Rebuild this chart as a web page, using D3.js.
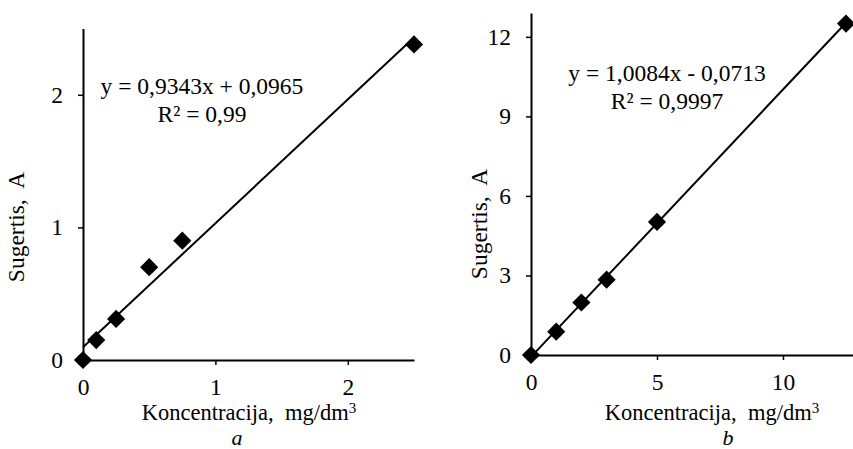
<!DOCTYPE html>
<meta charset="utf-8">
<script src="https://d3js.org/d3.v7.min.js"></script>
<style>
  body { margin: 0; background: #fff; }
  text { font-family: "Liberation Serif", "Times New Roman", serif; fill: #000; white-space: pre; }
</style>
<div id="chart"></div>
<script>

    // panel a
    var concA = [0, 0.1, 0.25, 0.5, 0.75, 2.5]
    var absA = [0, 0.15, 0.31, 0.70, 0.90, 2.38]
    var ticksAx = [0, 1, 2]
    var ticksAy = [0, 1, 2]
    var fitA = [0.9343, 0.0965]
    var eqA = ["y = 0,9343x + 0,0965", "R² = 0,99"]

    // panel b
    var concB = [0, 1, 2, 3, 5, 12.5]
    var absB = [0, 0.88, 1.98, 2.84, 5.02, 12.5]
    var ticksBx = [0, 5, 10]
    var ticksBy = [0, 3, 6, 9, 12]
    var fitB = [1.0084, -0.0713]
    var eqB = ["y = 1,0084x - 0,0713", "R² = 0,9997"]

    var xTitle = "Koncentracija,  mg/dm"
    var yTitle = "Sugertis,  A"

    var width = 853
        height = 449
        fs = "23.5px"

    var svg = d3.select("#chart")
      .append("svg")
        .attr("width", width)
        .attr("height", height)

    function panel(p) {
      var x = d3.scaleLinear().domain(p.xDom).range(p.xRange)
      var y = d3.scaleLinear().domain(p.yDom).range(p.yRange)
      var g = svg.append("g")

      g.append("g")
        .attr("transform", "translate(0," + p.yRange[0] + ")")
        .call(d3.axisBottom(x).tickValues(p.xTicks).tickFormat(d3.format("d"))
          .tickSize(5).tickSizeOuter(0).tickPadding(13))
      g.append("g")
        .attr("transform", "translate(" + p.xRange[0] + ",0)")
        .call(d3.axisLeft(y).tickValues(p.yTicks).tickFormat(d3.format("d"))
          .tickSize(5).tickSizeOuter(0).tickPadding(15))

      g.selectAll(".domain").attr("stroke-width", 2)
      g.selectAll(".tick line").attr("stroke-width", 1.5)
      g.selectAll(".tick text").style("font-size", fs).attr("font-family", null)

      // trendline
      var xEnd = p.xs[p.xs.length - 1]
      var fitPts = [[0, p.fit[1]], [xEnd, p.fit[0] * xEnd + p.fit[1]]]
      g.append("path")
        .datum(fitPts)
        .attr("d", d3.line().x(function(d){ return x(d[0]) }).y(function(d){ return y(d[1]) }))
        .attr("stroke", "#000")
        .attr("stroke-width", 2)
        .attr("fill", "none")

      // diamonds
      var pts = p.xs.map(function(v, i){ return [v, p.ys[i]] })
      g.selectAll("mydots")
        .data(pts)
        .enter()
        .append("path")
          .attr("d", d3.symbol().type(d3.symbolSquare).size(165))
          .attr("transform", function(d){ return "translate(" + x(d[0]) + "," + y(d[1]) + ") rotate(45)" })
          .attr("fill", "#000")

      // equation
      g.selectAll("myeq")
        .data(p.eq)
        .enter()
        .append("text")
          .attr("x", p.eqX)
          .attr("y", function(d, i){ return p.eqY + i * 27.5 })
          .attr("text-anchor", "middle")
          .style("font-size", fs)
          .text(function(d){ return d })

      // axis titles
      var xt = g.append("text")
        .attr("x", p.xTitleX)
        .attr("y", 420)
        .attr("text-anchor", "middle")
        .style("font-size", "22.5px")
        .text(xTitle)
      xt.append("tspan")
        .attr("dy", "-0.45em")
        .style("font-size", "15px")
        .text("3")

      g.append("text")
        .attr("transform", "translate(" + p.yTitleX + "," + p.yTitleY + ") rotate(-90)")
        .attr("text-anchor", "middle")
        .style("font-size", fs)
        .text(yTitle)

      g.append("text")
        .attr("x", p.capX)
        .attr("y", 444.5)
        .attr("text-anchor", "middle")
        .style("font-size", "22px")
        .style("font-style", "italic")
        .text(p.cap)
    }

    panel({
      xs: concA, ys: absA, xTicks: ticksAx, yTicks: ticksAy, fit: fitA, eq: eqA,
      xDom: [0, 2.5], xRange: [83, 414], yDom: [0, 2.5], yRange: [360, 28.5],
      eqX: 202, eqY: 94, xTitleX: 249, yTitleX: 24, yTitleY: 227, capX: 237, cap: "a"
    })

    panel({
      xs: concB, ys: absB, xTicks: ticksBx, yTicks: ticksBy, fit: fitB, eq: eqB,
      xDom: [0, 13], xRange: [531, 858.6], yDom: [0, 12.9], yRange: [355, 13],
      eqX: 667, eqY: 81, xTitleX: 712, yTitleX: 487, yTitleY: 224, capX: 728, cap: "b"
    })

</script>
